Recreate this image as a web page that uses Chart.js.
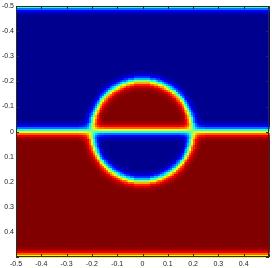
<!DOCTYPE html>
<html>
<head>
<meta charset="utf-8">
<script src="https://cdn.jsdelivr.net/npm/chart.js@4/dist/chart.umd.min.js"></script>
<style>
html,body{margin:0;padding:0;background:#fff;}
canvas{display:block;}
</style>
</head>
<body>
<canvas id="c" width="272" height="268"></canvas>
<script>
// ---- data ----
const xTicks = [-0.5, -0.4, -0.3, -0.2, -0.1, 0, 0.1, 0.2, 0.3, 0.4, 0.5];
const yTicks = [-0.5, -0.4, -0.3, -0.2, -0.1, 0, 0.1, 0.2, 0.3, 0.4, 0.5];
const gridCells = 128;                 // cells per side
const domain = [-0.5, 0.5];
const lineInterfaces = [-0.5, 0, 0.5]; // horizontal interfaces (periodic at ±0.5)
const circleCenter = [0, 0];
const circleRadius = [0.2];
// phase value versus signed distance (in half-cell steps) into the red phase
const profile = [0.5, 0.599, 0.690, 0.769, 0.832, 0.881, 0.917, 0.943, 0.961, 0.974, 0.982, 0.988, 0.992, 1];

// MATLAB jet(64)
function jetMap(m) {
  const n = Math.ceil(m / 4);
  const u = [];
  for (let i = 1; i <= n; i++) u.push(i / n);
  for (let i = 0; i < n - 1; i++) u.push(1);
  for (let i = n; i >= 1; i--) u.push(i / n);
  const g0 = Math.ceil(n / 2) - (m % 4 === 1 ? 1 : 0);
  const J = Array.from({length: m}, () => [0, 0, 0]);
  for (let k = 0; k < u.length; k++) {
    const g = g0 + k + 1, r = g + n, b = g - n;
    if (r >= 1 && r <= m) J[r - 1][0] = u[k];
    if (g >= 1 && g <= m) J[g - 1][1] = u[k];
    if (b >= 1 && b <= m) J[b - 1][2] = u[k];
  }
  return J.map(c => `rgb(${Math.round(c[0]*255)},${Math.round(c[1]*255)},${Math.round(c[2]*255)})`);
}
const cmap = jetMap(64);

const h = (domain[1] - domain[0]) / gridCells;
function prof(s) {
  let k = Math.round(s / (h / 2));
  const K = profile.length - 1;
  if (k > K) k = K; if (k < -K) k = -K;
  return k >= 0 ? profile[k] : 1 - profile[-k];
}
function lineDist(y) {
  // signed distance into red (lower) half, periodic walls at ±0.5
  if (y >= lineInterfaces[1]) return Math.min(y - lineInterfaces[1], lineInterfaces[2] - y);
  return -Math.min(lineInterfaces[1] - y, y - lineInterfaces[0]);
}
const field = [];
for (let j = 0; j < gridCells; j++) {
  const row = [];
  const y = domain[0] + (j + 0.5) * h;
  for (let i = 0; i < gridCells; i++) {
    const x = domain[0] + (i + 0.5) * h;
    const a = prof(lineDist(y));
    const d = Math.hypot(x - circleCenter[0], y - circleCenter[1]);
    const b = prof(circleRadius[0] - d);
    row.push(a + b - 2 * a * b);
  }
  field.push(row);
}

const heatPlugin = {
  id: 'heat',
  beforeDatasetsDraw(chart) {
    const ctx = chart.ctx, xs = chart.scales.x, ys = chart.scales.y;
    ctx.save();
    for (let j = 0; j < gridCells; j++) {
      const y0 = ys.getPixelForValue(domain[0] + j * h);
      const y1 = ys.getPixelForValue(domain[0] + (j + 1) * h);
      for (let i = 0; i < gridCells; i++) {
        const x0 = xs.getPixelForValue(domain[0] + i * h);
        const x1 = xs.getPixelForValue(domain[0] + (i + 1) * h);
        const v = field[j][i];
        const idx = Math.max(0, Math.min(63, Math.floor(v * 64)));
        ctx.fillStyle = cmap[idx];
        ctx.fillRect(Math.floor(Math.min(x0, x1)), Math.floor(Math.min(y0, y1)),
                     Math.ceil(Math.abs(x1 - x0)) + 1, Math.ceil(Math.abs(y1 - y0)) + 1);
      }
    }
    ctx.restore();
  },
  afterDatasetsDraw(chart) {
    const ctx = chart.ctx, a = chart.chartArea, xs = chart.scales.x, ys = chart.scales.y;
    ctx.save();
    ctx.strokeStyle = '#2b2b2b';
    ctx.lineWidth = 1;
    ctx.beginPath();
    const tl = 3;
    xTicks.forEach(t => {
      const px = Math.round(xs.getPixelForValue(t)) + 0.5;
      ctx.moveTo(px, a.top); ctx.lineTo(px, a.top + tl);
      ctx.moveTo(px, a.bottom); ctx.lineTo(px, a.bottom - tl);
    });
    yTicks.forEach(t => {
      const py = Math.round(ys.getPixelForValue(t)) + 0.5;
      ctx.moveTo(a.left, py); ctx.lineTo(a.left + tl, py);
      ctx.moveTo(a.right, py); ctx.lineTo(a.right - tl, py);
    });
    ctx.stroke();
    ctx.strokeRect(Math.round(a.left) + 0.5, Math.round(a.top) + 0.5,
                   Math.round(a.right - a.left) - 1, Math.round(a.bottom - a.top) - 1);
    ctx.restore();
  }
};

function fmt(v) {
  const r = Math.round(v * 10) / 10;
  if (Math.abs(r - 0.5) < 1e-9) return '';
  return r === 0 ? '0' : String(r);
}

new Chart(document.getElementById('c'), {
  type: 'scatter',
  data: { datasets: [{ data: [], pointRadius: 0 }] },
  options: {
    responsive: false,
    animation: false,
    events: [],
    layout: { padding: { left: 0, right: 3, top: 5, bottom: 0 } },
    plugins: { legend: { display: false }, tooltip: { enabled: false } },
    scales: {
      x: {
        type: 'linear', min: -0.5, max: 0.5,
        afterBuildTicks: s => { s.ticks = xTicks.map(v => ({ value: v })); },
        afterFit: s => { s.height = 11; },
        grid: { display: false, drawTicks: false },
        border: { display: false },
        ticks: { callback: fmt, autoSkip: false, maxRotation: 0, padding: 3,
                 color: '#222', font: { family: 'Liberation Sans', size: 7 } }
      },
      y: {
        type: 'linear', min: -0.5, max: 0.5, reverse: true,
        afterBuildTicks: s => { s.ticks = yTicks.map(v => ({ value: v })); },
        afterFit: s => { s.width = 16; },
        grid: { display: false, drawTicks: false },
        border: { display: false },
        ticks: { callback: fmt, autoSkip: false, padding: 2,
                 color: '#222', font: { family: 'Liberation Sans', size: 7 } }
      }
    }
  },
  plugins: [heatPlugin]
});
</script>
</body>
</html>
